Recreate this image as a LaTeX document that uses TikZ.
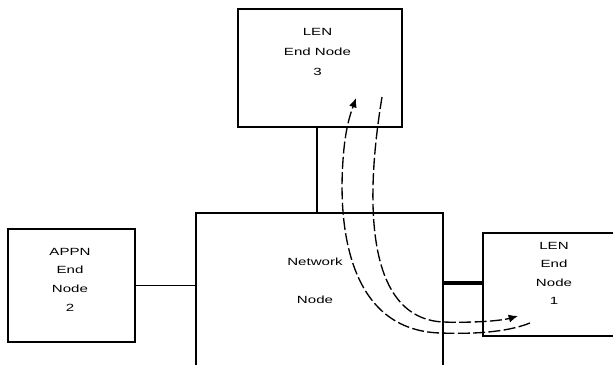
\documentclass[tikz,border=0pt]{standalone}
\usepackage{fontspec}
\setmainfont{Liberation Sans}
\usetikzlibrary{arrows.meta}
\newcommand{\widetext}[2]{\scalebox{1.45}[1]{\fontsize{7.8}{#1}\selectfont\begin{tabular}{@{}c@{}}#2\end{tabular}}}
\begin{document}
\begin{tikzpicture}[x=0.75pt,y=-0.75pt,
  box/.style={draw,line width=1.4pt,minimum width=0pt,inner sep=0pt},
  lbl/.style={inner sep=0pt},
  link/.style={line width=1.2pt},
  flow/.style={line width=1pt,dash pattern=on 9pt off 2.5pt}]
\useasboundingbox (0,0) rectangle (613,364);
\clip (0,0) rectangle (613,364);
% boxes
\node[box,minimum width=164*0.75pt,minimum height=118*0.75pt] (top) at (320,68) {};
\node[box,minimum width=127*0.75pt,minimum height=113*0.75pt] (left) at (71.5,285.5) {};
\node[box,line width=1.6pt,minimum width=247*0.75pt,minimum height=170*0.75pt] (net) at (319.5,298) {};
\node[box,minimum width=140*0.75pt,minimum height=103*0.75pt] (right) at (553,284.5) {};
% labels
\node[lbl] (ttop) at (317.5,51.5) {\widetext{15}{LEN\\End Node\\3}};
\node[lbl] (tleft) at (70,279.5) {\widetext{14}{APPN\\End\\Node\\2}};
\node[lbl] (tnet1) at (315,262.5) {\widetext{10}{Network}};
\node[lbl] (tnet2) at (315,301) {\widetext{10}{Node}};
\node[lbl] (tright) at (554,273.5) {\widetext{13.8}{LEN\\End\\Node\\1}};
% connectors
\coordinate (c1) at (317,0);
\coordinate (c2) at (0,283);
\draw[link] (top.south -| c1) -- (net.north -| c1);
\draw[link] (left.east) -- (left.east -| net.west);
\draw[line width=2.4pt] (net.east |- c2) -- (right.west |- c2);
% flows
\coordinate (a0) at (382,97);
\coordinate (a1) at (443,322);
\coordinate (a2) at (518,316);
\draw[flow,-{Latex[length=7pt,width=6pt]}] (a0) .. controls (365,200) and (365,318) .. (a1)
   .. controls (470,323) and (500,321) .. (a2);
\coordinate (b0) at (530,323);
\coordinate (b1) at (440,333);
\coordinate (b2) at (343,160);
\coordinate (b3) at (356,98);
\draw[flow,-{Latex[length=7pt,width=6pt]}] (b0) .. controls (505,333) and (470,334) .. (b1)
   .. controls (350,330) and (338,230) .. (b2) .. controls (345,130) and (350,115) .. (b3);
\end{tikzpicture}
\end{document}
